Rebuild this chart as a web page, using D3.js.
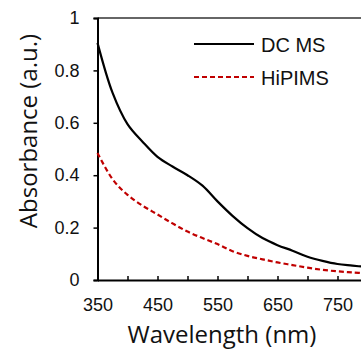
<!DOCTYPE html>
<html><head><meta charset="utf-8">
<script src="https://cdn.jsdelivr.net/npm/d3@7"></script>
<style>body{margin:0;background:#fff}svg{display:block}</style>
</head><body><svg id="c" width="361" height="350"></svg>
<script>
const wavelengths = [350,375,400,425,450,475,500,525,550,575,600,625,650,675,700,725,750,775,800];
const dcms   = [0.905,0.715,0.595,0.528,0.47,0.433,0.40,0.36,0.30,0.245,0.198,0.16,0.133,0.112,0.089,0.073,0.061,0.055,0.049];
const hipims = [0.485,0.385,0.325,0.284,0.25,0.216,0.185,0.16,0.137,0.11,0.092,0.079,0.067,0.057,0.047,0.039,0.033,0.029,0.025];
const seriesNames = ["DC MS","HiPIMS"];
const xTickLabels = [350,450,550,650,750];
const xMinorTicks = [350,400,450,500,550,600,650,700,750,800];
const yTicks = [0,0.2,0.4,0.6,0.8,1];

const svg = d3.select("#c");
const L=97.5, T=18, B=280, R=367.5;
const x = d3.scaleLinear().domain([350,800]).range([L,R]);
const y = d3.scaleLinear().domain([0,1]).range([B,T]);
const font = "'Liberation Sans', Arial, sans-serif";

// top border
svg.append("line").attr("x1",L).attr("x2",R).attr("y1",T).attr("y2",T)
  .attr("stroke","#333").attr("stroke-width",1.5);

// y axis
const ya = svg.append("g").attr("transform",`translate(${L},0)`)
  .call(d3.axisLeft(y).tickValues(yTicks).tickSize(4).tickPadding(14).tickFormat(d=>d3.format("")(d)));
ya.select(".domain").attr("stroke","#000").attr("stroke-width",2);
ya.selectAll(".tick line").attr("stroke","#000").attr("stroke-width",1.5);
ya.selectAll("text").attr("font-family",font).attr("font-size",18).attr("fill","#111");

// x axis
const xa = svg.append("g").attr("transform",`translate(0,${B})`)
  .call(d3.axisBottom(x).tickValues(xMinorTicks).tickSizeInner(-4).tickSizeOuter(0).tickPadding(18)
  .tickFormat(d=>xTickLabels.includes(d)?d:""));
xa.select(".domain").attr("stroke","#000").attr("stroke-width",2);
xa.selectAll(".tick line").attr("stroke","#000").attr("stroke-width",1.5);
xa.selectAll("text").attr("font-family",font).attr("font-size",18).attr("fill","#111");

const line = d3.line().x((d,i)=>x(wavelengths[i])).y(d=>y(d)).curve(d3.curveCatmullRom.alpha(0.5));
svg.append("path").attr("d",line(dcms)).attr("fill","none").attr("stroke","#000").attr("stroke-width",2.2);
svg.append("path").attr("d",line(hipims)).attr("fill","none").attr("stroke","#c00000").attr("stroke-width",2.2).attr("stroke-dasharray","5,3");

// legend
const lg = [{name:seriesNames[0],c:"#000",d:null,y:44},{name:seriesNames[1],c:"#c00000",d:"5,3",y:77}];
lg.forEach(o=>{
  svg.append("line").attr("x1",194).attr("x2",254).attr("y1",o.y).attr("y2",o.y)
    .attr("stroke",o.c).attr("stroke-width",2.2).attr("stroke-dasharray",o.d);
  svg.append("text").attr("x",261).attr("y",o.y+7.5).text(o.name)
    .attr("font-family",font).attr("font-size",20).attr("fill","#111");
});

// titles
svg.append("text").attr("x",222).attr("y",343).attr("text-anchor","middle")
  .attr("font-family","'Open Sans', sans-serif").attr("font-size",24).attr("fill","#111").text("Wavelength (nm)");
svg.append("text").attr("transform","translate(37,131) rotate(-90)").attr("text-anchor","middle")
  .attr("font-family","'Open Sans', sans-serif").attr("font-size",24).attr("fill","#111").text("Absorbance (a.u.)");
</script></body></html>
